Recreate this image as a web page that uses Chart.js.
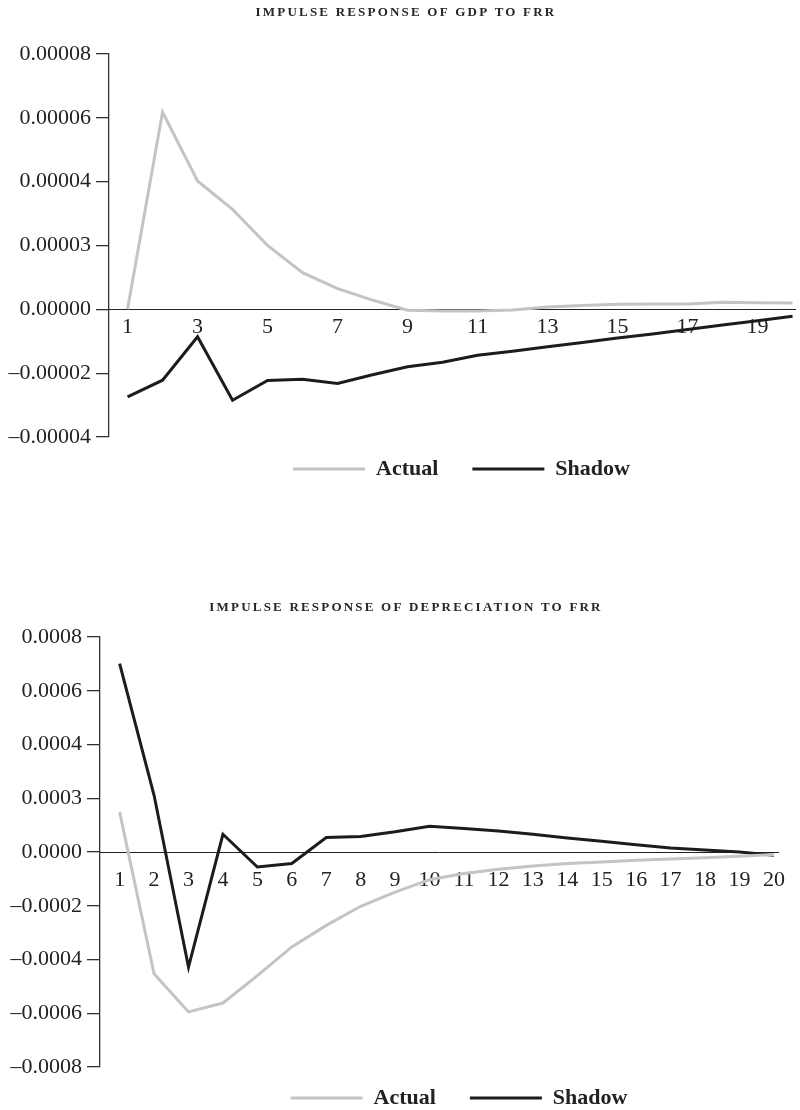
<!DOCTYPE html>
<html>
<head>
<meta charset="utf-8">
<script src="https://cdn.jsdelivr.net/npm/chart.js@4.4.1/dist/chart.umd.min.js"></script>
<style>
  html, body { margin: 0; padding: 0; background: #fff; overflow: hidden; }
  .panel { position: absolute; left: 0; width: 800px; }
  .panel canvas { display: block; }
  #gdpPanel { top: 0; height: 503px; }
  #depPanel { top: 560px; height: 573px; }
</style>
</head>
<body>
<div class="panel" id="gdpPanel"><canvas id="gdpChart" width="800" height="503"></canvas></div>
<div class="panel" id="depPanel"><canvas id="depChart" width="800" height="573"></canvas></div>
<script>
// horizon (periods after the shock)
const steps = [1, 2, 3, 4, 5, 6, 7, 8, 9, 10, 11, 12, 13, 14, 15, 16, 17, 18, 19, 20];

// impulse response of GDP to FRR
const gdpActual = [0, 6.18e-5, 4.02e-5, 3.13e-5, 2.0e-5, 1.15e-5, 0.65e-5, 0.29e-5, -0.03e-5, -0.05e-5,
  -0.05e-5, -0.02e-5, 0.07e-5, 0.12e-5, 0.16e-5, 0.17e-5, 0.17e-5, 0.22e-5, 0.21e-5, 0.2e-5];
const gdpShadow = [-2.74e-5, -2.22e-5, -0.86e-5, -2.85e-5, -2.23e-5, -2.19e-5, -2.32e-5, -2.05e-5, -1.8e-5, -1.66e-5,
  -1.44e-5, -1.31e-5, -1.17e-5, -1.04e-5, -0.9e-5, -0.77e-5, -0.63e-5, -0.49e-5, -0.36e-5, -0.22e-5];
const gdpXTicks = [1, 3, 5, 7, 9, 11, 13, 15, 17, 19];
const gdpYTicks = [-4e-5, -2e-5, 0, 2e-5, 4e-5, 6e-5, 8e-5];
const gdpYLabels = ['\u20130.00004', '\u20130.00002', '0.00000', '0.00003', '0.00004', '0.00006', '0.00008'];

// impulse response of depreciation to FRR
const depActual = [1.49e-4, -4.53e-4, -5.95e-4, -5.62e-4, -4.6e-4, -3.53e-4, -2.73e-4, -2.02e-4, -1.49e-4, -1.03e-4,
  -0.8e-4, -0.64e-4, -0.52e-4, -0.43e-4, -0.37e-4, -0.31e-4, -0.26e-4, -0.21e-4, -0.16e-4, -0.09e-4];
const depShadow = [7.01e-4, 2.11e-4, -4.28e-4, 0.66e-4, -0.56e-4, -0.43e-4, 0.54e-4, 0.58e-4, 0.75e-4, 0.96e-4,
  0.87e-4, 0.78e-4, 0.66e-4, 0.52e-4, 0.4e-4, 0.27e-4, 0.15e-4, 0.07e-4, 0, -0.12e-4];
const depXTicks = steps;
const depYTicks = [-8e-4, -6e-4, -4e-4, -2e-4, 0, 2e-4, 4e-4, 6e-4, 8e-4];
const depYLabels = ['\u20130.0008', '\u20130.0006', '\u20130.0004', '\u20130.0002', '0.0000', '0.0003', '0.0004', '0.0006', '0.0008'];

const serif = "'Liberation Serif', 'Times New Roman', serif";
const ink = '#222';

// title drawn with tracking, like the small caps heading of the figure
const spacedTitle = {
  id: 'spacedTitle',
  afterDraw(chart, args, opts) {
    const ctx = chart.ctx;
    ctx.save();
    ctx.font = `bold ${opts.size}px ${serif}`;
    ctx.letterSpacing = opts.spacing + 'px';
    ctx.fillStyle = '#262626';
    ctx.textAlign = 'center';
    ctx.textBaseline = 'middle';
    ctx.fillText(opts.text, opts.x, opts.y);
    ctx.restore();
  },
};

// nudge the legend off-centre, as in the figure
const legendOffset = {
  id: 'legendOffset',
  afterLayout(chart, args, opts) {
    const legend = chart.legend;
    legend.left += opts.dx;
    legend.right += opts.dx;
    legend.top += opts.dy;
    legend.bottom += opts.dy;
  },
};

function points(values) {
  return steps.map((s, i) => ({ x: s, y: values[i] }));
}

function makeChart(id, o) {
  return new Chart(document.getElementById(id), {
    type: 'line',
    data: {
      datasets: [
        { label: 'Actual', data: points(o.actual), borderColor: '#c4c4c6', backgroundColor: '#c4c4c6', borderWidth: 3 },
        { label: 'Shadow', data: points(o.shadow), borderColor: '#1c1c1c', backgroundColor: '#1c1c1c', borderWidth: 3 },
      ],
    },
    plugins: [spacedTitle, legendOffset],
    options: {
      responsive: false,
      animation: false,
      layout: { padding: o.padding },
      elements: { point: { radius: 0 }, line: { tension: 0 } },
      scales: {
        x: {
          type: 'linear',
          position: { y: 0 },
          min: o.xMin,
          max: o.xMax,
          afterBuildTicks: (scale) => { scale.ticks = o.xTicks.map((v) => ({ value: v })); },
          grid: { display: false, drawTicks: false },
          border: { display: true, color: ink, width: 1 },
          ticks: {
            autoSkip: false, maxRotation: 0, padding: o.xPad, color: ink,
            font: { family: serif, size: o.fontSize },
            callback: (v) => String(v),
          },
        },
        y: {
          min: o.yTicks[0],
          max: o.yTicks[o.yTicks.length - 1],
          afterBuildTicks: (scale) => { scale.ticks = o.yTicks.map((v) => ({ value: v })); },
          afterFit: (scale) => { scale.width = o.yWidth; },
          grid: { drawOnChartArea: false, drawTicks: true, tickLength: 13, color: '#333', lineWidth: 1.3 },
          border: { display: true, color: '#333', width: 1.3 },
          ticks: {
            padding: 5, color: ink,
            font: { family: serif, size: o.fontSize },
            callback: (v, i) => o.yLabels[i],
          },
        },
      },
      plugins: {
        title: { display: false },
        tooltip: { enabled: false },
        spacedTitle: { text: o.title, x: 406, y: o.titleY, size: 13, spacing: 2.2 },
        legendOffset: { dx: o.legendDx, dy: o.legendDy },
        legend: {
          position: 'bottom',
          labels: {
            usePointStyle: true, pointStyle: 'line', pointStyleWidth: 72,
            padding: 34, color: ink,
            font: { family: serif, size: 22, weight: 'bold' },
          },
        },
      },
    },
  });
}

makeChart('gdpChart', {
  title: 'IMPULSE RESPONSE OF GDP TO FRR', titleY: 13,
  actual: gdpActual, shadow: gdpShadow,
  xTicks: gdpXTicks, yTicks: gdpYTicks, yLabels: gdpYLabels,
  xMin: 0.47, xMax: 20.07, xPad: 5, fontSize: 22,
  padding: { top: 54, left: 0, right: 5, bottom: 0 }, yWidth: 109,
  legendDx: 64, legendDy: -13,
});

makeChart('depChart', {
  title: 'IMPULSE RESPONSE OF DEPRECIATION TO FRR', titleY: 48,
  actual: depActual, shadow: depShadow,
  xTicks: depXTicks, yTicks: depYTicks, yLabels: depYLabels,
  xMin: 0.43, xMax: 20.14, xPad: 15, fontSize: 22,
  padding: { top: 77, left: 0, right: 10, bottom: 0 }, yWidth: 100,
  legendDx: 64, legendDy: -14,
});
</script>
</body>
</html>
